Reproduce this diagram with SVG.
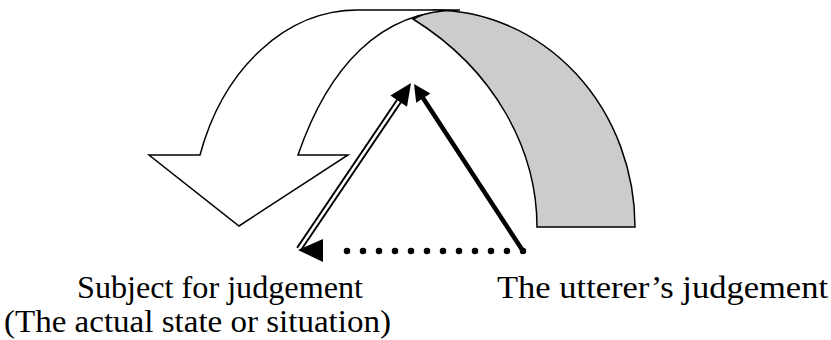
<svg xmlns="http://www.w3.org/2000/svg" width="831" height="340" viewBox="0 0 831 340">
<style>
.shape{stroke:#000;stroke-width:1.5;stroke-linejoin:miter}
.lbl{font-family:"Liberation Serif","Times New Roman",serif;font-size:32px;fill:#000}
</style>
<rect width="831" height="340" fill="#fff"/>
<g id="gray-band">
<path class="shape" fill="#cccccc" d="M413,19 L433,10 A202 217 0 0 1 635,227 L537,227 C537,150 495,70 413,19 Z"/>
</g>
<g id="curved-arrow">
<path class="shape" fill="#fff" d="M460,10 L357,10 A166.5 217 0 0 0 200,155 L149,155 L239,226 L348,155 L298,155 C328,67.5 380,10 460,10 Z"/>
</g>
<g id="connectors">
<g id="double-arrow">
<line x1="299" y1="249" x2="399" y2="101" stroke="#000" stroke-width="6.5"/>
<line x1="297" y1="252" x2="401" y2="98" stroke="#fff" stroke-width="2.5"/>
<polygon points="411,83 390.4,95.6 407,106.8" fill="#000"/>
</g>
<g id="thick-arrow">
<line x1="523" y1="251" x2="423" y2="98" stroke="#000" stroke-width="4.5" stroke-linecap="round"/>
<polygon points="414,84 430.4,93.6 416.2,102.8" fill="#000"/>
</g>
<g id="dotted-arrow">
<line x1="523" y1="251" x2="331" y2="251" stroke="#000" stroke-width="6.5" stroke-linecap="round" stroke-dasharray="0 16"/>
<polygon points="298,250 323,239 323,262" fill="#000"/>
</g>
</g>
<g id="label-subject">
<text class="lbl" x="77" y="298" textLength="286" lengthAdjust="spacingAndGlyphs">Subject for judgement</text>
<text class="lbl" x="4" y="332" textLength="387" lengthAdjust="spacingAndGlyphs">(The actual state or situation)</text>
</g>
<g id="label-utterer">
<text class="lbl" x="497" y="298" textLength="331" lengthAdjust="spacingAndGlyphs">The utterer’s judgement</text>
</g>
</svg>
